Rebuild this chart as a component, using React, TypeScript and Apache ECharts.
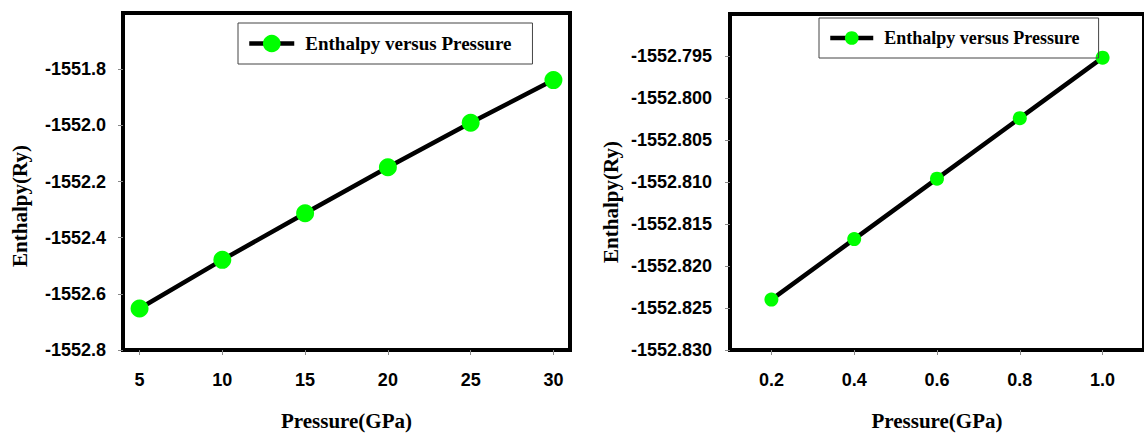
import React, { useEffect, useRef } from "react";
import * as echarts from "echarts";

// Left panel: enthalpy over the 5–30 GPa range
const pressureHigh = [5, 10, 15, 20, 25, 30];
const enthalpyHigh = [-1552.652, -1552.479, -1552.313, -1552.149, -1551.991, -1551.839];
const xTicksHigh = [5, 10, 15, 20, 25, 30];
const yTicksHigh = [-1552.8, -1552.6, -1552.4, -1552.2, -1552.0, -1551.8];

// Right panel: enthalpy over the 0.2–1.0 GPa range
const pressureLow = [0.2, 0.4, 0.6, 0.8, 1.0];
const enthalpyLow = [-1552.824, -1552.8168, -1552.8096, -1552.8024, -1552.7952];
const xTicksLow = [0.2, 0.4, 0.6, 0.8, 1.0];
const yTicksLow = [-1552.83, -1552.825, -1552.82, -1552.815, -1552.81, -1552.805, -1552.8, -1552.795];

const seriesName = "Enthalpy versus Pressure";
const xName = "Pressure(GPa)";
const yName = "Enthalpy(Ry)";

const SANS = "'Liberation Sans', Arial, sans-serif";
const SERIF = "'Liberation Serif', 'Times New Roman', serif";

export default function App() {
  const ref = useRef<HTMLDivElement>(null);

  useEffect(() => {
    if (!ref.current) return;
    const chart = echarts.init(ref.current, undefined, { renderer: "svg" });

    const tickLabel = {
      fontFamily: SANS,
      fontWeight: "bold" as const,
      fontSize: 18,
      color: "#000",
    };
    const tick = { show: true, length: 5, lineStyle: { color: "#888", width: 1 } };
    const nameStyle = {
      fontFamily: SERIF,
      fontWeight: "bold" as const,
      fontSize: 21,
      color: "#000",
    };
    const legendText = (size: number) => ({
      fontFamily: SERIF,
      fontWeight: "bold" as const,
      fontSize: size,
      color: "#000",
      padding: [0, 0, 0, 6],
    });

    chart.setOption({
      animation: false,
      backgroundColor: "#fff",
      grid: [
        {
          left: 123,
          top: 13,
          width: 447,
          height: 347,
          show: true,
          borderColor: "#000",
          borderWidth: 4,
          backgroundColor: "transparent",
        },
        {
          left: 730,
          top: 14,
          width: 427,
          height: 347,
          show: true,
          borderColor: "#000",
          borderWidth: 4,
          backgroundColor: "transparent",
        },
      ],
      legend: [
        {
          data: [seriesName],
          left: 238,
          top: 23,
          orient: "horizontal",
          padding: [11, 21, 11, 9],
          borderColor: "#444",
          borderWidth: 1,
          itemWidth: 45,
          itemHeight: 22,
          selectedMode: false,
          lineStyle: { width: 4.5, color: "#000" },
          textStyle: legendText(19),
        },
        {
          data: [seriesName],
          left: 819,
          top: 18,
          orient: "horizontal",
          padding: [11, 19, 11, 9],
          borderColor: "#444",
          borderWidth: 1,
          itemWidth: 43,
          itemHeight: 17,
          selectedMode: false,
          lineStyle: { width: 4.5, color: "#000" },
          textStyle: legendText(18),
        },
      ],
      xAxis: [
        {
          type: "value",
          gridIndex: 0,
          min: 4,
          max: 31,
          splitLine: { show: false },
          axisLine: { show: false },
          axisTick: { ...tick, customValues: xTicksHigh },
          axisLabel: {
            ...tickLabel,
            margin: 21,
            customValues: xTicksHigh,
            formatter: (v: number) => String(v),
          },
          name: xName,
          nameLocation: "middle",
          nameGap: 60,
          nameTextStyle: nameStyle,
        },
        {
          type: "value",
          gridIndex: 1,
          min: 0.1,
          max: 1.1,
          splitLine: { show: false },
          axisLine: { show: false },
          axisTick: { ...tick, customValues: xTicksLow },
          axisLabel: {
            ...tickLabel,
            margin: 21,
            customValues: xTicksLow,
            formatter: (v: number) => v.toFixed(1),
          },
          name: xName,
          nameLocation: "middle",
          nameGap: 60,
          nameTextStyle: nameStyle,
        },
      ],
      yAxis: [
        {
          type: "value",
          gridIndex: 0,
          min: -1552.8,
          max: -1551.6,
          scale: true,
          splitLine: { show: false },
          axisLine: { show: false },
          axisTick: { ...tick, customValues: yTicksHigh },
          axisLabel: {
            ...tickLabel,
            margin: 17,
            customValues: yTicksHigh,
            formatter: (v: number) => v.toFixed(1),
          },
        },
        {
          type: "value",
          gridIndex: 1,
          min: -1552.83,
          max: -1552.79,
          scale: true,
          splitLine: { show: false },
          axisLine: { show: false },
          axisTick: { ...tick, customValues: yTicksLow },
          axisLabel: {
            ...tickLabel,
            margin: 18,
            customValues: yTicksLow,
            formatter: (v: number) => v.toFixed(3),
          },
        },
      ],
      graphic: [
        {
          type: "text",
          x: 20,
          y: 206,
          rotation: Math.PI / 2,
          style: {
            text: yName,
            align: "center",
            verticalAlign: "middle",
            fontFamily: SERIF,
            fontWeight: "bold",
            fontSize: 21,
            fill: "#000",
          },
        },
        {
          type: "text",
          x: 611,
          y: 202,
          rotation: Math.PI / 2,
          style: {
            text: yName,
            align: "center",
            verticalAlign: "middle",
            fontFamily: SERIF,
            fontWeight: "bold",
            fontSize: 21,
            fill: "#000",
          },
        },
      ],
      series: [
        {
          name: seriesName,
          type: "line",
          xAxisIndex: 0,
          yAxisIndex: 0,
          data: pressureHigh.map((p, i) => [p, enthalpyHigh[i]]),
          symbol: "circle",
          symbolSize: 18,
          lineStyle: { color: "#000", width: 4.5 },
          itemStyle: { color: "#00ff00", borderWidth: 0 },
          z: 3,
        },
        {
          name: seriesName,
          type: "line",
          xAxisIndex: 1,
          yAxisIndex: 1,
          data: pressureLow.map((p, i) => [p, enthalpyLow[i]]),
          symbol: "circle",
          symbolSize: 14,
          lineStyle: { color: "#000", width: 4.5 },
          itemStyle: { color: "#00ff00", borderWidth: 0 },
          z: 3,
        },
      ],
    });

    return () => chart.dispose();
  }, []);

  return (
    <div
      ref={ref}
      style={{ position: "absolute", left: 0, top: 0, width: 1144, height: 436 }}
    />
  );
}
